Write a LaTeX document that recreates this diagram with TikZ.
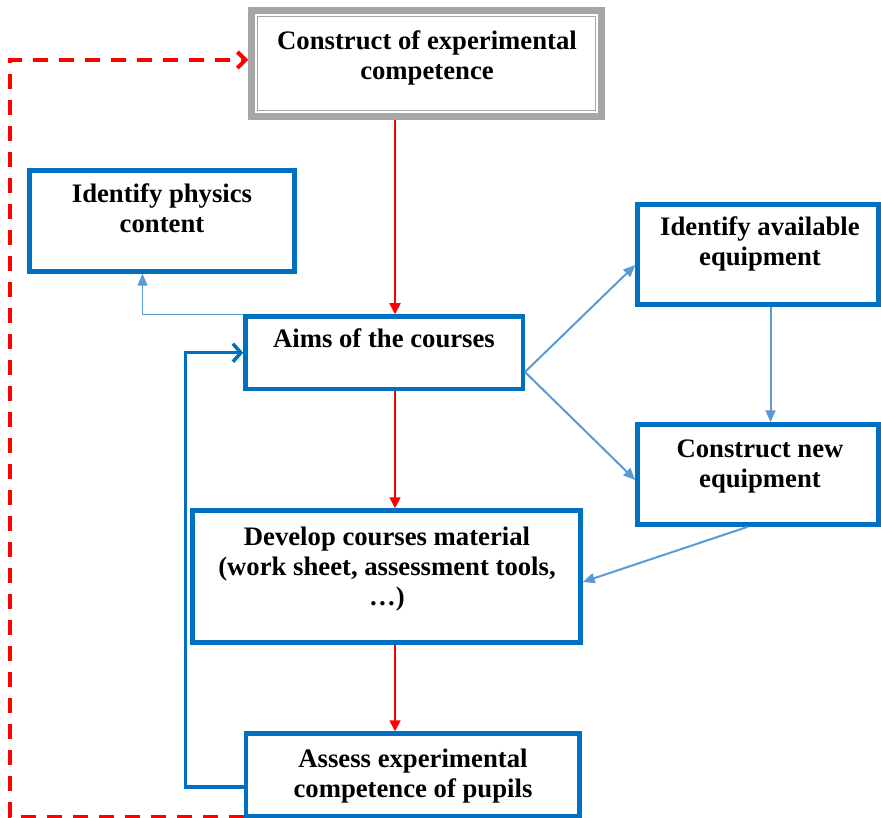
\documentclass[tikz,border=0pt]{standalone}
\usepackage{fontspec}
\setmainfont{Liberation Serif}
\usetikzlibrary{arrows.meta,positioning}

\definecolor{boxblue}{RGB}{0,112,192}
\definecolor{lightblue}{RGB}{91,155,213}
\definecolor{framegray}{RGB}{166,166,166}

\begin{document}
\begin{tikzpicture}[x=1pt,y=-1pt]
\tikzset{
  stepbox/.style={rectangle,draw=boxblue,line width=4.5pt,inner sep=0pt},
  topbox/.style={rectangle,draw=framegray,line width=6.5pt,inner sep=0pt},
  boxtext/.style={align=center,inner sep=0pt,anchor=base,font=\fontsize{26.7}{30}\selectfont\bfseries},
  flowedge/.style={line cap=butt,line join=miter},
  mainflow/.style={flowedge,draw=red,line width=1.8pt,-{Triangle[length=11pt,width=11pt]}},
  sideflow/.style={flowedge,draw=lightblue,line width=2pt,-{Triangle[length=12pt,width=10pt]}},
  thinflow/.style={flowedge,draw=lightblue,line width=1.2pt,-{Triangle[length=12pt,width=10pt]}},
  loopflow/.style={flowedge,draw=boxblue,line width=3.5pt,-{Straight Barb[length=8pt,width=18pt]}},
  backflow/.style={flowedge,draw=red,line width=4pt,dash pattern=on 15pt off 11pt,-{Straight Barb[length=8pt,width=16pt]}}
}
\useasboundingbox (0,0) rectangle (881,818);

% boxes
\node[topbox,minimum width=350,minimum height=106] (con) at (426.5,63.5) {};
\draw[framegray,line width=1.2pt] ([xshift=9.5pt,yshift=9.5pt]con.south west) rectangle ([xshift=-9.5pt,yshift=-9.5pt]con.north east);
\node[stepbox,minimum width=265,minimum height=101] (phys) at (162,221) {};
\node[stepbox,minimum width=277.5,minimum height=72.5] (aims) at (384.25,352.75) {};
\node[stepbox,minimum width=241,minimum height=100] (avail) at (758,254.5) {};
\node[stepbox,minimum width=241,minimum height=100] (newq) at (758,474.5) {};
\node[stepbox,minimum width=388,minimum height=132] (dev) at (386.5,576.5) {};
\node[stepbox,minimum width=333.5,minimum height=83] (ass) at (412.75,775) {};

% texts (base = last line)
\node[boxtext] (con-t) at (427,80) {Construct of experimental\\competence};
\node[boxtext] (phys-t) at (162,233) {Identify physics\\content};
\node[boxtext] (aims-t) at (384,348) {Aims of the courses};
\node[boxtext] (avail-t) at (760,266) {Identify available\\equipment};
\node[boxtext] (newq-t) at (760,487) {Construct new\\equipment};
\node[boxtext] (dev-t) at (387,605) {Develop courses material\\(work sheet, assessment tools,\\…)};
\node[boxtext] (ass-t) at (413,797) {Assess experimental\\competence of pupils};

\coordinate (spine) at (395,0);
\coordinate (tap) at (142.5,0);
\coordinate (ret) at (185.5,787);
\coordinate (back) at (9.5,60);
\coordinate (fork) at (525,372);

% main chain
\draw[mainflow] (con.south -| spine) -- (aims.north -| spine);
\draw[mainflow] (aims.south -| spine) -- (dev.north -| spine);
\draw[mainflow] (dev.south -| spine) -- (ass.north -| spine);

% side links
\draw[thinflow] (aims.north west) -| (phys.south -| tap);
\draw[sideflow] (fork) -- ([yshift=-10.5pt]avail.west);
\draw[sideflow] (fork) -- ([yshift=-5.5pt]newq.west);
\draw[sideflow] ([xshift=12.5pt]avail.south) -- ([xshift=12.5pt]newq.north);
\draw[sideflow] ([xshift=-10pt]newq.south) -- ([yshift=-5.5pt]dev.east);

% feedback
\draw[loopflow] (ass.west |- ret) -- (ret) |- (aims.west);
\draw[backflow] ([yshift=2pt]ass.south west) -| (back) -- (con.west |- back);
\end{tikzpicture}
\end{document}
